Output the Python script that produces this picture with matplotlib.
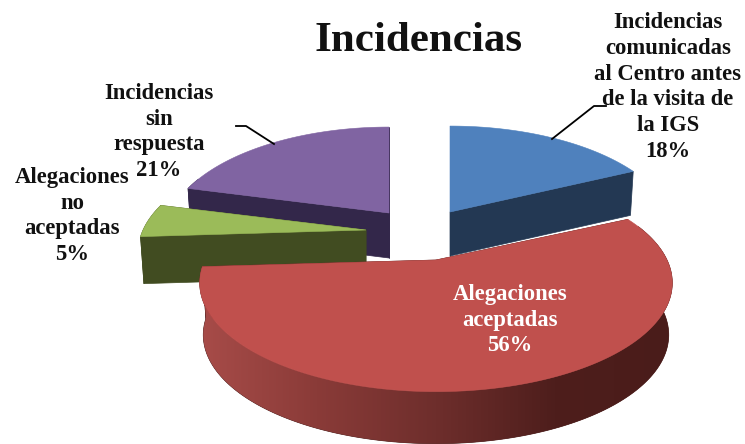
import numpy as np
import matplotlib
matplotlib.use("Agg")
import matplotlib.pyplot as plt
from matplotlib.colors import LinearSegmentedColormap
from matplotlib.patches import Polygon

title = "Incidencias"
categories = ["Incidencias\ncomunicadas\nal Centro antes\nde la visita de\nla IGS",
              "Alegaciones\naceptadas",
              "Alegaciones\nno\naceptadas",
              "Incidencias\nsin\nrespuesta"]
values = [18, 56, 5, 21]
top_colors = ["#4F81BD", "#C0504D", "#9BBB59", "#8064A2"]
wall_colors = ["#233853", "#4A1C1A", "#414C21", "#33274A"]

W, H = 745, 444
RX, RY, K = 231.0, 104.0, 0.21
apexes = [(450, 212), (436, 260), (366, 230), (389, 213)]
x_scale = [0.955, 1.0, 0.965, 0.945]
depths = [44, 52, 47, 45]
label_pos = [(668, 87), (510, 320), (72, 216), (159, 132)]
label_colors = ["#111111", "white", "#111111", "#111111"]
BOTTOM_X = 0.985


def project(theta_deg, apex, xs):
    t = np.radians(theta_deg)
    u, v = np.sin(t), np.cos(t)
    s = 1 / (1 + K * v)
    return apex[0] + xs * RX * u * s, apex[1] - RY * v * s


def drop(p, ap, d):
    return ap[0] + (p[0] - ap[0]) * BOTTOM_X, p[1] + d


fig = plt.figure(figsize=(W / 100, H / 100), dpi=100)
ax = fig.add_axes([0, 0, 1, 1])
ax.axis("off")

shares = np.array(values) / sum(values) * 360
ends = np.cumsum(shares)
starts = ends - shares
red_map = LinearSegmentedColormap.from_list(
    "r", ["#A84C49", "#8A3B38", "#6E2E2C", "#4E1E1C", "#4A1C1A"])
gradient = np.linspace(0, 1, 256).reshape(1, -1)

# back-to-front: purple, green, blue, red
for i in [3, 2, 0, 1]:
    ap, d = apexes[i], depths[i]
    th = np.linspace(starts[i], ends[i], 200)
    rim = np.array([project(t, ap, x_scale[i]) for t in th])
    # radial walls
    for end in (rim[0], rim[-1]):
        quad = [ap, tuple(end), drop(end, ap, d), (ap[0], ap[1] + d)]
        ax.add_patch(Polygon(quad, closed=True, fc=wall_colors[i], ec=wall_colors[i], lw=0.5, zorder=1))
    # outer curved wall (front-facing part only)
    vis = rim[np.cos(np.radians(th)) < 0.35]
    if len(vis):
        low = np.array([drop(p, ap, d) for p in vis[::-1]])
        wall = Polygon(np.vstack([vis, low]), closed=True, fc=wall_colors[i], ec=wall_colors[i], lw=0.5, zorder=1)
        ax.add_patch(wall)
        if i == 1:
            im = ax.imshow(gradient, cmap=red_map, extent=(198, 674, H, 0), aspect="auto", zorder=1)
            im.set_clip_path(wall)
    poly = np.vstack([[ap], rim])
    ax.add_patch(Polygon(poly, closed=True, fc=top_colors[i], ec=top_colors[i], lw=0.4, zorder=1))

ax.set_xlim(0, W)
ax.set_ylim(H, 0)

# leader lines
ax.plot([236, 246, 274], [126, 126, 144], color="black", lw=1.3, zorder=3)
ax.plot([552, 594, 606], [139, 106, 106], color="black", lw=1.3, zorder=3)

serif = "Liberation Serif"
ax.text(418, 41, title, family=serif, weight="bold", fontsize=31, ha="center", va="center", color="#111111", zorder=4)
for name, val, (x, y), c in zip(categories, values, label_pos, label_colors):
    ax.text(x, y, f"{name}\n{val}%", family=serif, weight="bold", fontsize=16.3, ha="center", va="center",
            color=c, linespacing=1.31, zorder=4)

fig.savefig("out.png", dpi=100)
